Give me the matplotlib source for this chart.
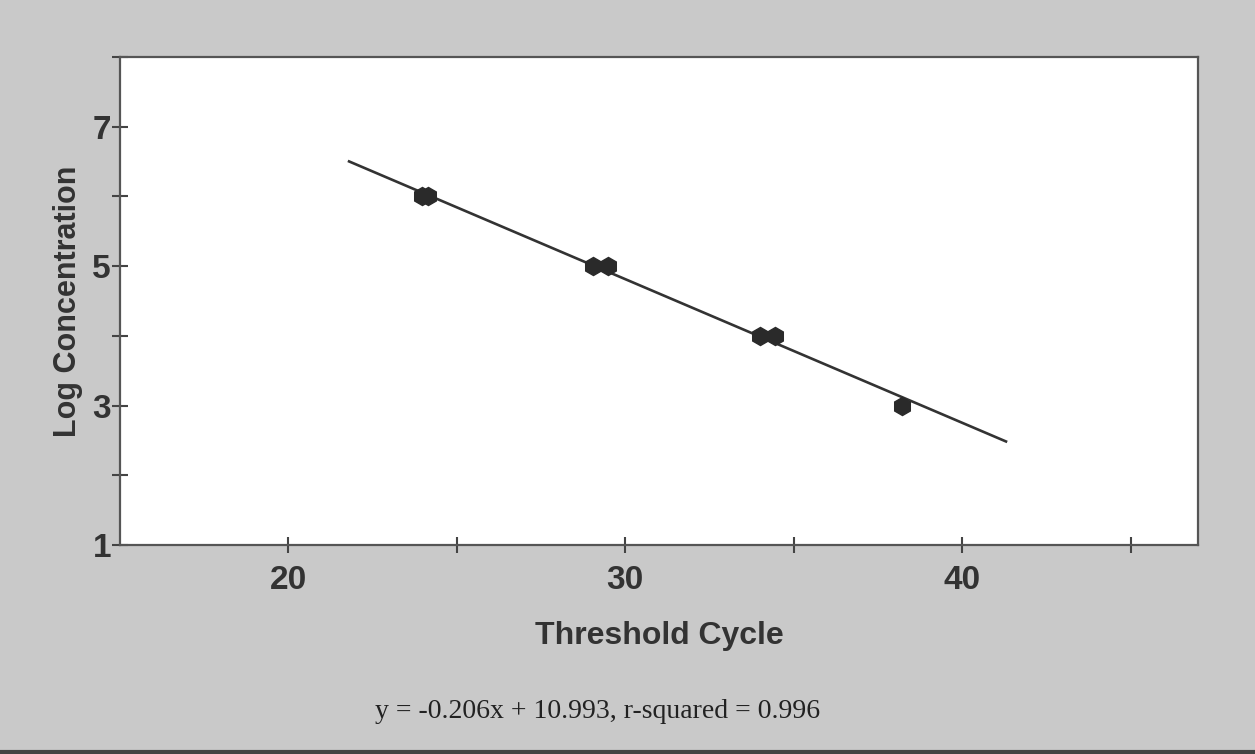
import matplotlib
matplotlib.use("Agg")
import matplotlib.pyplot as plt
import numpy as np
from matplotlib.lines import Line2D

# Data
threshold_cycle = [23.95, 24.15, 29.05, 29.5, 34.0, 34.45, 38.2]
log_concentration = [6.0, 6.0, 5.0, 5.0, 4.0, 4.0, 3.0]
fit_slope = -0.206
fit_intercept = 10.993
fit_x_range = [21.8, 41.3]
x_ticks = [20, 25, 30, 35, 40, 45]
x_tick_labels = ["20", "", "30", "", "40", ""]
y_ticks = [1, 2, 3, 4, 5, 6, 7, 8]
y_tick_labels = ["1", "", "3", "", "5", "", "7", ""]
caption = "y = -0.206x + 10.993, r-squared = 0.996"

ink = "#333333"
sans = ["Liberation Sans Narrow", "Liberation Sans", "DejaVu Sans"]

fig = plt.figure(figsize=(12.55, 7.54), dpi=100)
fig.patch.set_facecolor("#c9c9c9")
ax = fig.add_axes([120/1255, 1-545/754, (1198-120)/1255, (545-57)/754])
ax.set_facecolor("white")

fx = np.array(fit_x_range)
ax.plot(fx, fit_slope*fx + fit_intercept, color=ink, lw=1.9, zorder=2)
ax.plot(threshold_cycle, log_concentration, linestyle="none", marker="h",
        markersize=13, color="#2a2a2a", zorder=3)

ax.set_xlim(15, 47)
ax.set_ylim(1, 8)
ax.set_xticks(x_ticks)
ax.set_xticklabels(x_tick_labels)
ax.set_yticks(y_ticks)
ax.set_yticklabels(y_tick_labels)
ax.tick_params(direction="inout", length=11, width=1.5, color="#444444",
               labelcolor=ink, labelsize=24)
ax.tick_params(axis="x", pad=9)
ax.tick_params(axis="y", pad=1)
for lab in ax.get_xticklabels() + ax.get_yticklabels():
    lab.set_family(sans)
    lab.set_fontweight("bold")

for s in ax.spines.values():
    s.set_color("#555555")
    s.set_linewidth(1.6)

ax.set_xlabel("Threshold Cycle", family=sans, fontweight="bold", fontsize=23,
              color=ink, labelpad=18)
ax.set_ylabel("Log Concentration", family=sans, fontweight="bold", fontsize=22,
              color=ink, labelpad=7)

fig.text(598/1255, 1-712/754, caption, family=["Liberation Serif", "DejaVu Serif"],
         fontsize=20, color="#222222", ha="center", va="center")

fig.add_artist(Line2D([0, 1], [0.002, 0.002], transform=fig.transFigure,
                      color="#444444", lw=3))

fig.savefig("out.png", dpi=100, facecolor=fig.get_facecolor())
